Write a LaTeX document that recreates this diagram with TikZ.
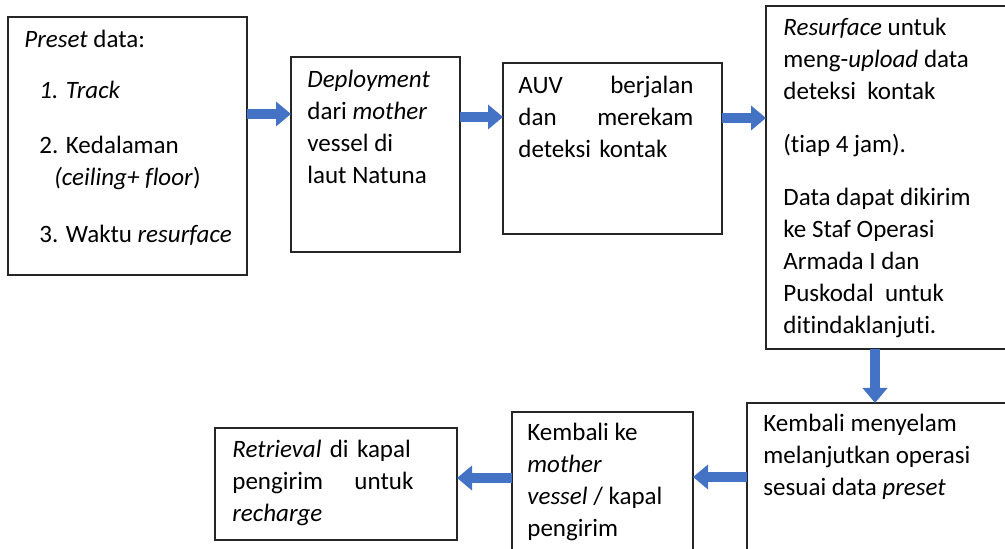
\documentclass[tikz,border=0pt]{standalone}
\usepackage{fontspec}
\setmainfont{Carlito}[Ligatures=NoCommon]
\usetikzlibrary{arrows.meta}
\definecolor{flowblue}{HTML}{4472C4}
\tikzset{
  box/.style={draw=black!85,line width=0.75pt,inner sep=0pt,outer sep=0pt,anchor=north west},
  txt/.style={inner sep=0pt,anchor=north west,align=left,font=\fontsize{12.5pt}{16pt}\selectfont},
  flow/.style={draw=flowblue,line width=5pt,-{Triangle[length=7.5pt,width=12pt]}}
}
\begin{document}
\begin{tikzpicture}[x=0.5pt,y=-0.5pt]
%\draw[style=help lines,step=50] (0,0) grid (1005,549);
\clip (0,0) rectangle (1005,549);

\node[box,minimum width=239*0.5pt,minimum height=258*0.5pt] (preset) at (8,17) {};
\node[txt] (presettxt) at (24,24.6) {\strut\textit{Preset} data:\\[9.5pt]
\hspace*{7.5pt}\textit{1. Track}\\[11.5pt]
\hspace*{7.5pt}2. Kedalaman\\
\hspace*{15pt}\textit{(ceiling+ floor})\\[12.5pt]
\hspace*{7.5pt}3. Waktu \textit{resurface}};

\node[box,minimum width=169*0.5pt,minimum height=195*0.5pt] (deploy) at (291,57) {};
\node[txt] (deploytxt) at (307,64.6) {\strut\textit{Deployment}\\
dari \textit{mother}\\
vessel di\\
laut Natuna};

\node[box,minimum width=219*0.5pt,minimum height=171*0.5pt] (auv) at (503,63) {};
\node[txt,text width=87.5pt] (auvtxt) at (518,70.6) {\strut AUV \hfill berjalan\\
dan \hfill merekam\\
deteksi kontak};

\node[box,minimum width=250*0.5pt,minimum height=343*0.5pt] (resurf) at (766,6) {};
\node[txt] (resurftxt) at (783,12.6) {\strut\textit{Resurface} untuk\\
meng-\textit{upload} data\\
deteksi\ \ kontak\\[10.5pt]
(tiap 4 jam).\\[10.5pt]
Data dapat dikirim\\
ke Staf Operasi\\
Armada I dan\\
Puskodal\ \ untuk\\
ditindaklanjuti.};

\node[box,minimum width=270*0.5pt,minimum height=160*0.5pt] (selam) at (747,403) {};
\node[txt] (selamtxt) at (763,408.6) {\strut Kembali menyelam\\
melanjutkan operasi\\
sesuai data \textit{preset}};

\node[box,minimum width=181*0.5pt,minimum height=150*0.5pt] (kembali) at (512,412) {};
\node[txt] (kembalitxt) at (527,417.6) {\strut Kembali ke\\
\textit{mother}\\
\textit{vessel} / kapal\\
pengirim};

\node[box,minimum width=242*0.5pt,minimum height=112*0.5pt] (retrieve) at (215,428) {};
\node[txt,text width=90.5pt] (retrievetxt) at (232,434.6) {\strut\textit{Retrieval} di kapal\\
pengirim \hfill untuk\\
\textit{recharge}};

\draw[flow] ([yshift=16pt]preset.east) -- ([yshift=16pt]preset.east -| deploy.west);
\draw[flow] ([yshift=18.75pt]deploy.east) -- ([yshift=18.75pt]deploy.east -| auv.west);
\draw[flow] ([yshift=15.25pt]auv.east) -- ([yshift=15.25pt]auv.east -| resurf.west);
\draw[flow] ([xshift=-8pt]resurf.south) -- ([xshift=-8pt]resurf.south |- selam.north);
\draw[flow] ([yshift=3pt]selam.west) -- ([yshift=3pt]selam.west -| kembali.east);
\draw[flow] ([yshift=4.5pt]kembali.west) -- ([yshift=4.5pt]kembali.west -| retrieve.east);

\end{tikzpicture}
\end{document}
